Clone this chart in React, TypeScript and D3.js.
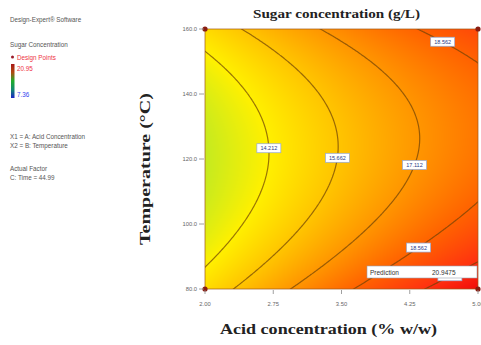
import React, { useMemo } from "react";
import * as d3 from "d3";

// Fitted model for sugar concentration (coded factors: A = acid, B = temperature)
const modelTerms = ["Intercept", "A", "B", "AB", "A^2", "B^2", "AB^2"];
const modelCoefficients = [15.7575, 2.68, -0.4, -0.425, -0.37, 2.13, -0.075];

const acidRange = [2.0, 5.0];
const temperatureRange = [80, 160];
const acidTicks = [2.0, 2.75, 3.5, 4.25, 5.0];
const temperatureTicks = [80, 100, 120, 140, 160];
const contourLevels = [14.212, 15.662, 17.112, 18.562, 20.012];
const designPoints = [
  [2.0, 80],
  [2.0, 160],
  [5.0, 80],
  [5.0, 160],
];
const predictionPoint = [5.0, 80];
const legendHigh = "20.95";
const legendLow = "7.36";
const timeFactor = "44.99";

// where each contour label sits (level index, acid %, temperature)
const labelAnchors = [
  { level: 0, acid: 2.69, temp: 123.4 },
  { level: 1, acid: 3.46, temp: 120.3 },
  { level: 2, acid: 4.25, temp: 118.8 },
  { level: 3, acid: 4.62, temp: 156.3 },
  { level: 3, acid: 4.29, temp: 95.1 },
  { level: 4, acid: 4.62, temp: 88.0 },
];

const W = 481;
const H = 345;
const plot = { left: 205, right: 478, top: 29, bottom: 289 };

function predict(acid: number, temp: number): number {
  const A = (acid - 3.5) / 1.5;
  const B = (temp - 120) / 40;
  const [b0, bA, bB, bAB, bAA, bBB, bABB] = modelCoefficients;
  return b0 + bA * A + bB * B + bAB * A * B + bAA * A * A + bBB * B * B + bABB * A * B * B;
}

const x = d3.scaleLinear().domain(acidRange).range([plot.left, plot.right]);
const y = d3.scaleLinear().domain(temperatureRange).range([plot.bottom, plot.top]);

const color = d3
  .scaleLinear<string>()
  .domain([12.7, 14.2, 15.7, 17.1, 18.5, 20.0, 21.0])
  .range(["#c4ea20", "#fff000", "#ffc400", "#ff9600", "#ff6400", "#ff3010", "#f00a0a"])
  .interpolate(d3.interpolateRgb)
  .clamp(true);

const sans = "'Liberation Sans', Arial, sans-serif";
const serif = "'Liberation Serif', 'Times New Roman', serif";

export default function App() {
  const fillHref = useMemo(() => {
    const w = plot.right - plot.left;
    const h = plot.bottom - plot.top;
    const canvas = document.createElement("canvas");
    canvas.width = w;
    canvas.height = h;
    const ctx = canvas.getContext("2d");
    if (!ctx) return "";
    const img = ctx.createImageData(w, h);
    for (let py = 0; py < h; py++) {
      const t = y.invert(plot.top + py + 0.5);
      for (let px = 0; px < w; px++) {
        const a = x.invert(plot.left + px + 0.5);
        const c = d3.rgb(color(predict(a, t)));
        const k = (py * w + px) * 4;
        img.data[k] = c.r;
        img.data[k + 1] = c.g;
        img.data[k + 2] = c.b;
        img.data[k + 3] = 255;
      }
    }
    ctx.putImageData(img, 0, 0);
    return canvas.toDataURL();
  }, []);

  const contourPaths = useMemo(() => {
    const nx = 240;
    const ny = 240;
    const a0 = 1.85;
    const a1 = 5.15;
    const t0 = 76;
    const t1 = 164;
    const da = (a1 - a0) / (nx - 1);
    const dt = (t1 - t0) / (ny - 1);
    const values = new Array(nx * ny);
    for (let j = 0; j < ny; j++) {
      for (let i = 0; i < nx; i++) {
        values[j * nx + i] = predict(a0 + i * da, t0 + j * dt);
      }
    }
    const gen = d3.contours().size([nx, ny]).thresholds(contourLevels);
    return gen(values).map((mp) => {
      const rings: [number, number][][] = [];
      mp.coordinates.forEach((poly) =>
        poly.forEach((ring) =>
          rings.push(ring.map(([gx, gy]) => [x(a0 + gx * da), y(t0 + gy * dt)] as [number, number]))
        )
      );
      const d = rings.map((r) => "M" + r.map((p) => p[0].toFixed(2) + "," + p[1].toFixed(2)).join("L") + "Z").join("");
      return { value: mp.value, rings, d };
    });
  }, []);

  const labels = labelAnchors.map((an) => {
    const c = contourPaths[an.level];
    const ax = x(an.acid);
    const ay = y(an.temp);
    let best: [number, number] = [ax, ay];
    let bestD = Infinity;
    c.rings.forEach((r) =>
      r.forEach((p) => {
        if (p[0] < plot.left || p[0] > plot.right || p[1] < plot.top || p[1] > plot.bottom) return;
        const dd = (p[0] - ax) ** 2 + (p[1] - ay) ** 2;
        if (dd < bestD) {
          bestD = dd;
          best = p;
        }
      })
    );
    return { x: best[0], y: best[1], text: c.value.toFixed(3) };
  });

  const predValue = predict(predictionPoint[0], predictionPoint[1]);

  const legendLines = [
    { text: "Design-Expert\u00ae Software", y: 22, fill: "#555" },
    { text: "Sugar Concentration", y: 47, fill: "#555" },
    { text: "X1 = A: Acid Concentration", y: 139, fill: "#555" },
    { text: "X2 = B: Temperature", y: 148, fill: "#555" },
    { text: "Actual Factor", y: 171, fill: "#555" },
    { text: "C: Time = " + timeFactor, y: 180, fill: "#555" },
  ];

  return (
    <svg width={W} height={H} style={{ position: "absolute", left: 0, top: 0, background: "#fff" }}>
      <defs>
        <clipPath id="plotClip">
          <rect x={plot.left} y={plot.top} width={plot.right - plot.left} height={plot.bottom - plot.top} />
        </clipPath>
        <linearGradient id="legendBar" x1="0" y1="0" x2="0" y2="1">
          <stop offset="0" stopColor="#a81818" />
          <stop offset="0.25" stopColor="#b04a10" />
          <stop offset="0.5" stopColor="#1fae2a" />
          <stop offset="0.75" stopColor="#138a70" />
          <stop offset="1" stopColor="#1a24c8" />
        </linearGradient>
      </defs>

      {/* legend block */}
      <g fontFamily={sans} fontSize={6.3}>
        {legendLines.map((l) => (
          <text key={l.text} x={10} y={l.y} fill={l.fill}>
            {l.text}
          </text>
        ))}
        <circle cx={12.5} cy={57} r={1.5} fill="#9a1a2a" />
        <text x={17} y={59.5} fill="#ee3344">
          Design Points
        </text>
        <rect x={11} y={64} width={3.5} height={34} fill="url(#legendBar)" />
        <text x={17} y={71} fill="#ee3344">
          {legendHigh}
        </text>
        <text x={17} y={97} fill="#3344ee">
          {legendLow}
        </text>
      </g>

      {/* title */}
      <text
        x={336.5}
        y={18}
        textAnchor="middle"
        fontFamily={serif}
        fontWeight="bold"
        fontSize={13.5}
        fill="#222"
        textLength={167}
        lengthAdjust="spacingAndGlyphs"
      >
        Sugar concentration (g/L)
      </text>

      {/* response surface */}
      {fillHref && (
        <image
          href={fillHref}
          x={plot.left}
          y={plot.top}
          width={plot.right - plot.left}
          height={plot.bottom - plot.top}
          preserveAspectRatio="none"
        />
      )}
      <g clipPath="url(#plotClip)">
        {contourPaths.map((c) => (
          <path key={c.value} d={c.d} fill="none" stroke="#6e4206" strokeOpacity={0.7} strokeWidth={1.2} />
        ))}
      </g>
      <rect
        x={plot.left}
        y={plot.top}
        width={plot.right - plot.left}
        height={plot.bottom - plot.top}
        fill="none"
        stroke="#a05a18"
        strokeOpacity={0.7}
        strokeWidth={1}
      />

      {/* contour labels */}
      <g fontFamily={sans} fontSize={5.5}>
        {labels.map((l, i) => (
          <g key={i}>
            <rect x={l.x - 12} y={l.y - 4.5} width={24} height={9} fill="#fff" stroke="#93a8d6" strokeWidth={0.7} />
            <text x={l.x} y={l.y + 2} textAnchor="middle" fill="#2a3a86">
              {l.text}
            </text>
          </g>
        ))}
      </g>

      {/* design points */}
      {designPoints.map((p, i) => (
        <circle key={i} cx={x(p[0])} cy={y(p[1])} r={2.6} fill="#8a1c10" />
      ))}

      {/* prediction flag */}
      <g fontFamily={sans} fontSize={6.5} fill="#333">
        <rect x={367} y={266} width={110} height={12} fill="#fff" stroke="#9aa0b0" strokeWidth={0.6} />
        <text x={370} y={274.5}>Prediction</text>
        <text x={432} y={274.5}>{predValue.toFixed(4)}</text>
      </g>

      {/* x axis */}
      <g fontFamily={sans} fontSize={5.8} fill="#666">
        {acidTicks.map((t) => (
          <g key={t}>
            <line x1={x(t)} x2={x(t)} y1={plot.bottom + 1} y2={plot.bottom + 5} stroke="#888" strokeWidth={0.8} />
            <text x={x(t)} y={306} textAnchor="middle">
              {t.toFixed(2)}
            </text>
          </g>
        ))}
      </g>
      <text
        x={328.5}
        y={334}
        textAnchor="middle"
        fontFamily={serif}
        fontWeight="bold"
        fontSize={14}
        fill="#222"
        textLength={217}
        lengthAdjust="spacingAndGlyphs"
      >
        Acid concentration (% w/w)
      </text>

      {/* y axis */}
      <g fontFamily={sans} fontSize={5.8} fill="#666">
        {temperatureTicks.map((t) => (
          <g key={t}>
            <line x1={plot.left - 6} x2={plot.left - 1} y1={y(t)} y2={y(t)} stroke="#888" strokeWidth={0.8} />
            <text x={197} y={y(t) + 2} textAnchor="end">
              {t.toFixed(1)}
            </text>
          </g>
        ))}
      </g>
      <text
        transform="translate(150,169) rotate(-90)"
        textAnchor="middle"
        fontFamily={serif}
        fontWeight="bold"
        fontSize={15}
        fill="#222"
        textLength={152}
        lengthAdjust="spacingAndGlyphs"
      >
        Temperature (°C)
      </text>
    </svg>
  );
}
